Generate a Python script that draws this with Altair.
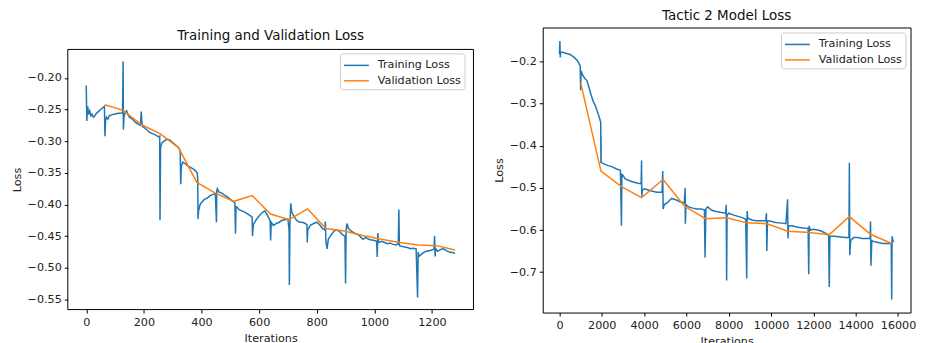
import altair as alt
import pandas as pd

# ---------------- data ----------------
left_train_x = [0, 2, 5, 8, 12, 16, 20, 25, 30, 35, 40, 45, 50, 55, 60, 63, 65, 67, 70, 75,
                80, 90, 100, 110, 120, 126, 128, 129, 131, 135, 140, 145, 150, 160, 170, 180, 188, 191, 193, 196,
                200, 210, 220, 230, 240, 250, 255, 256, 258, 262, 270, 280, 290, 300, 310, 320, 326, 328, 330, 335,
                345, 355, 365, 375, 385, 387, 388, 390, 395, 400, 410, 420, 430, 440, 448, 452, 453, 455, 460, 470,
                480, 490, 500, 510, 516, 518, 520, 525, 530, 540, 550, 560, 570, 576, 577, 580, 585, 590, 600, 610,
                620, 630, 638, 640, 642, 650, 660, 670, 680, 690, 700, 704, 705, 707, 710, 713, 720, 730, 740, 750,
                760, 766, 767, 769, 775, 780, 790, 800, 810, 820, 828, 830, 832, 836, 840, 850, 860, 870, 880, 890,
                898, 900, 902, 905, 910, 920, 930, 940, 950, 960, 970, 980, 990, 1000, 1008, 1010, 1012, 1015, 1025, 1035,
                1045, 1055, 1065, 1075, 1083, 1085, 1087, 1095, 1105, 1115, 1125, 1135, 1145, 1150, 1152, 1155, 1160, 1170, 1180, 1190,
                1200, 1207, 1209, 1211, 1213, 1220, 1230, 1240, 1250, 1260, 1270, 1280]
left_train_y = [-0.212, -0.268, -0.245, -0.258, -0.252, -0.260, -0.257, -0.262, -0.260, -0.256, -0.254, -0.252, -0.250, -0.248, -0.246, -0.245, -0.292, -0.268, -0.262, -0.265,
                -0.260, -0.258, -0.257, -0.256, -0.256, -0.255, -0.174, -0.282, -0.262, -0.255, -0.252, -0.258, -0.262, -0.265, -0.270, -0.273, -0.275, -0.253, -0.270, -0.277,
                -0.278, -0.282, -0.286, -0.288, -0.290, -0.293, -0.292, -0.425, -0.310, -0.303, -0.300, -0.297, -0.298, -0.302, -0.306, -0.310, -0.315, -0.368, -0.340, -0.333,
                -0.336, -0.340, -0.342, -0.345, -0.350, -0.360, -0.423, -0.410, -0.400, -0.397, -0.392, -0.390, -0.386, -0.384, -0.383, -0.428, -0.378, -0.375, -0.380, -0.382,
                -0.385, -0.388, -0.392, -0.395, -0.398, -0.446, -0.403, -0.405, -0.408, -0.410, -0.412, -0.415, -0.418, -0.420, -0.450, -0.432, -0.428, -0.424, -0.418, -0.413,
                -0.410, -0.418, -0.425, -0.457, -0.428, -0.433, -0.430, -0.428, -0.425, -0.424, -0.423, -0.440, -0.527, -0.430, -0.398, -0.412, -0.418, -0.425, -0.428, -0.428,
                -0.430, -0.432, -0.460, -0.440, -0.435, -0.432, -0.430, -0.428, -0.432, -0.438, -0.440, -0.427, -0.460, -0.470, -0.455, -0.448, -0.442, -0.440, -0.443, -0.448,
                -0.450, -0.525, -0.440, -0.430, -0.438, -0.442, -0.445, -0.447, -0.450, -0.455, -0.452, -0.455, -0.456, -0.457, -0.458, -0.483, -0.445, -0.460, -0.458, -0.460,
                -0.462, -0.461, -0.463, -0.464, -0.462, -0.408, -0.465, -0.466, -0.467, -0.468, -0.470, -0.469, -0.470, -0.547, -0.475, -0.482, -0.480, -0.476, -0.474, -0.473,
                -0.472, -0.470, -0.450, -0.482, -0.470, -0.474, -0.471, -0.470, -0.473, -0.475, -0.476, -0.477]
left_val_x = [64, 128, 192, 256, 320, 384, 448, 512, 576, 640, 704, 768, 832, 896, 960, 1024, 1088, 1152, 1216, 1280]
left_val_y = [-0.2424, -0.2513, -0.274, -0.288, -0.310, -0.365, -0.382, -0.395, -0.386, -0.415,
              -0.424, -0.407, -0.438, -0.442, -0.449, -0.455, -0.460, -0.464, -0.465, -0.472]

right_train_x = [0, 20, 40, 60, 150, 300, 500, 700, 850, 980, 1000, 1020, 1100, 1200, 1300, 1400, 1500, 1600, 1700, 1800,
                 1900, 1950, 1960, 1965, 1970, 2000, 2100, 2300, 2500, 2700, 2880, 2930, 2950, 3000, 3100, 3300, 3500, 3700, 3860, 3880,
                 3890, 3920, 4000, 4200, 4400, 4600, 4850, 4880, 4900, 4950, 5100, 5300, 5500, 5700, 5900, 5940, 5950, 5980, 6100, 6300,
                 6500, 6700, 6850, 6880, 6920, 7000, 7200, 7400, 7600, 7850, 7880, 7900, 7920, 8000, 8200, 8400, 8600, 8800, 8850, 8870,
                 8900, 9100, 9300, 9500, 9750, 9780, 9800, 9830, 10000, 10200, 10400, 10700, 10780, 10800, 10830, 11000, 11200, 11500, 11750, 11780,
                 11800, 11850, 12000, 12200, 12400, 12650, 12720, 12750, 12780, 13000, 13200, 13500, 13680, 13700, 13720, 13760, 13900, 14100, 14300, 14500,
                 14680, 14700, 14720, 14760, 14900, 15100, 15300, 15500, 15680, 15700, 15720, 15760, 15800]
right_train_y = [-0.182, -0.151, -0.190, -0.178, -0.178, -0.180, -0.183, -0.190, -0.198, -0.210, -0.268, -0.222, -0.232, -0.240, -0.245, -0.262, -0.280, -0.295, -0.305, -0.320,
                 -0.335, -0.345, -0.440, -0.378, -0.440, -0.440, -0.443, -0.447, -0.450, -0.455, -0.458, -0.590, -0.468, -0.470, -0.478, -0.483, -0.486, -0.489, -0.490, -0.435,
                 -0.520, -0.505, -0.502, -0.505, -0.508, -0.510, -0.510, -0.460, -0.550, -0.540, -0.535, -0.525, -0.528, -0.533, -0.536, -0.500, -0.585, -0.540, -0.545, -0.548,
                 -0.550, -0.550, -0.552, -0.665, -0.550, -0.545, -0.553, -0.556, -0.558, -0.560, -0.540, -0.720, -0.565, -0.560, -0.564, -0.567, -0.570, -0.574, -0.715, -0.555,
                 -0.572, -0.576, -0.578, -0.578, -0.578, -0.560, -0.650, -0.578, -0.579, -0.582, -0.583, -0.585, -0.527, -0.620, -0.590, -0.590, -0.593, -0.595, -0.596, -0.705,
                 -0.590, -0.600, -0.598, -0.600, -0.603, -0.610, -0.612, -0.735, -0.615, -0.615, -0.616, -0.618, -0.618, -0.440, -0.660, -0.625, -0.618, -0.618, -0.620, -0.620,
                 -0.620, -0.580, -0.685, -0.625, -0.628, -0.630, -0.632, -0.632, -0.632, -0.765, -0.615, -0.625, -0.628]
right_val_x = [1000, 1960, 2930, 3880, 4900, 5900, 6900, 7900, 8850, 9800, 10800, 11800, 12750, 13700, 14700, 15700]
right_val_y = [-0.250, -0.460, -0.497, -0.523, -0.480, -0.543, -0.573, -0.571, -0.583, -0.585,
               -0.603, -0.606, -0.611, -0.568, -0.610, -0.632]

series_names = ["Training Loss", "Validation Loss"]
left_title = "Training and Validation Loss"
right_title = "Tactic 2 Model Loss"
left_xticks = [0, 200, 400, 600, 800, 1000, 1200]
left_yticks = [-0.55, -0.50, -0.45, -0.40, -0.35, -0.30, -0.25, -0.20]
right_xticks = [0, 2000, 4000, 6000, 8000, 10000, 12000, 14000, 16000]
right_yticks = [-0.7, -0.6, -0.5, -0.4, -0.3, -0.2]

# axis limits of each panel (matplotlib-style 5 % margins)
left_xlim = [-64, 1344]
left_ylim = [-0.566, -0.155]
right_xlim = [-790, 16590]
right_ylim = [-0.796, -0.119]

# ---------------- styling / layout ----------------
FONT = "DejaVu Sans"
BLUE = "#1f77b4"
ORANGE = "#ff7f0e"
LEFT_W, LEFT_H = 407, 261
RIGHT_W, RIGHT_H = 369, 286   # kept inside the 925 px window so the page is not shrunk
LEFT_DROP = 22  # the left axes box starts this many px lower than the right one

# empty band on top of the left panel so its box starts lower than the right box
left_top_ext = left_ylim[1] + LEFT_DROP * (left_ylim[1] - left_ylim[0]) / LEFT_H

# legend key: a 25 px line inside a 16 px symbol slot (keeps rows 18 px apart)
LEGEND_LINE = "M-1,0H2.125"


def legend(**kw):
    return alt.Legend(
        title=None, fillColor="white", strokeColor="#cccccc", cornerRadius=3, padding=3,
        symbolType=LEGEND_LINE, symbolSize=256, symbolStrokeWidth=1.5,
        labelFont=FONT, labelFontSize=11.2, labelColor="#222222",
        labelOffset=17, rowPadding=0.5, **kw,
    )


def color_enc(leg):
    return alt.Color("series:N", scale=alt.Scale(domain=series_names, range=[BLUE, ORANGE]), legend=leg)


# ----- left panel -----
ltdf = pd.DataFrame({"x": left_train_x, "loss": left_train_y, "series": series_names[0]})
lvdf = pd.DataFrame({"x": left_val_x, "loss": left_val_y, "series": series_names[1]})
lframe_df = pd.DataFrame({"x1": [left_xlim[0]], "x2": [left_xlim[1]],
                          "y1": [left_ylim[0]], "y2": [left_ylim[1]]})
lxscale = alt.Scale(domain=left_xlim, nice=False, zero=False)
lyscale = alt.Scale(domain=[left_ylim[0], left_top_ext], nice=False, zero=False)
lx = alt.X("x:Q", scale=lxscale, axis=alt.Axis(values=left_xticks, title="Iterations", format="d"))
ly = alt.Y("loss:Q", scale=lyscale,
           axis=alt.Axis(values=left_yticks, title="Loss", format=".2f",
                         titleY=LEFT_DROP + LEFT_H / 2))
lcolor = color_enc(legend(orient="none", legendX=273, legendY=LEFT_DROP + 4))
l_train = alt.Chart(ltdf).mark_line(strokeWidth=1.5, clip=True).encode(x=lx, y=ly, color=lcolor)
l_val = alt.Chart(lvdf).mark_line(strokeWidth=1.5, clip=True).encode(x=lx, y=ly, color=lcolor)
l_frame = alt.Chart(lframe_df).mark_rect(fillOpacity=0, stroke="black", strokeWidth=1).encode(
    x=alt.X("x1:Q", scale=lxscale), x2="x2:Q",
    y=alt.Y("y1:Q", scale=lyscale), y2="y2:Q",
)
left = alt.layer(l_train, l_val, l_frame).properties(
    width=LEFT_W, height=LEFT_H + LEFT_DROP,
    view=alt.ViewBackground(stroke="transparent"),
    title=alt.TitleParams(left_title, font=FONT, fontSize=13.5, fontWeight="normal",
                          color="#111111", offset=0, dy=15, anchor="middle"),
)

# ----- right panel -----
rtdf = pd.DataFrame({"x": right_train_x, "loss": right_train_y, "series": series_names[0]})
rvdf = pd.DataFrame({"x": right_val_x, "loss": right_val_y, "series": series_names[1]})
rx = alt.X("x:Q", scale=alt.Scale(domain=right_xlim, nice=False, zero=False),
           axis=alt.Axis(values=right_xticks, title="Iterations", format="d"))
ry = alt.Y("loss:Q", scale=alt.Scale(domain=right_ylim, nice=False, zero=False),
           axis=alt.Axis(values=right_yticks, title="Loss", format=".1f"))
rcolor = color_enc(legend(orient="top-right", offset=5))
r_train = alt.Chart(rtdf).mark_line(strokeWidth=1.5, clip=True).encode(x=rx, y=ry, color=rcolor)
r_val = alt.Chart(rvdf).mark_line(strokeWidth=1.5, clip=True).encode(x=rx, y=ry, color=rcolor)
right = alt.layer(r_train, r_val).properties(
    width=RIGHT_W, height=RIGHT_H,
    view=alt.ViewBackground(stroke="black", strokeWidth=1),
    title=alt.TitleParams(right_title, font=FONT, fontSize=13.5, fontWeight="normal",
                          color="#111111", offset=0, dy=-5, anchor="middle"),
)

chart = (
    alt.hconcat(left, right, spacing=17.5)
    .resolve_scale(color="independent")
    .properties(padding={"left": 2, "top": 0, "right": 0, "bottom": 0}, background="white")
    .configure_axis(
        grid=False, domain=False, tickColor="black", tickSize=3.5,
        labelFont=FONT, labelFontSize=11.2, labelColor="#222222", labelPadding=3,
        titleFont=FONT, titleFontSize=11.2, titleFontWeight="normal", titleColor="#222222",
        titlePadding=5,
    )
)

chart.save("out.html", embed_options={"renderer": "svg", "actions": False})
